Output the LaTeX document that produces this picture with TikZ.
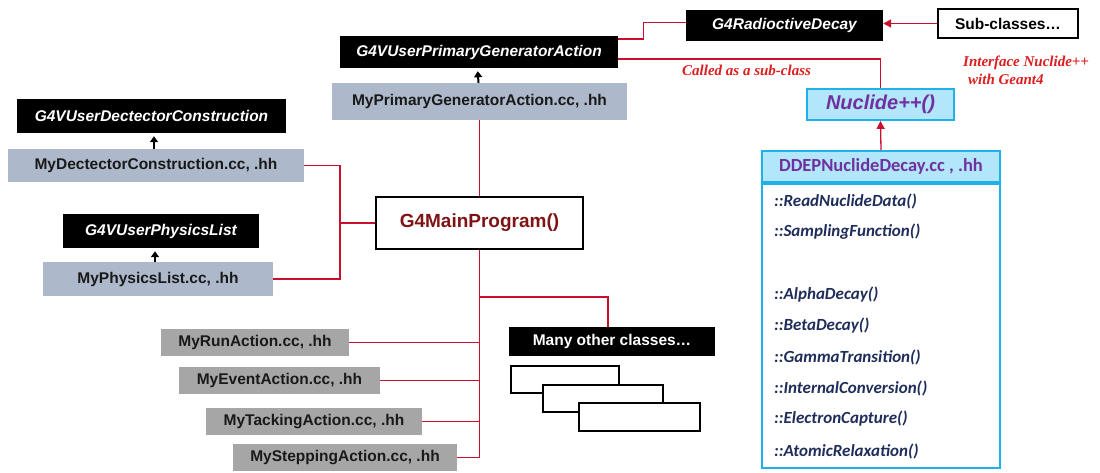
\documentclass[tikz,border=0pt]{standalone}
\usepackage{fontspec}
\setmainfont{Liberation Sans}
\newfontfamily\calib{Carlito}
\newfontfamily\tms{Liberation Serif}
\usetikzlibrary{arrows.meta}
\definecolor{bgray}{HTML}{ADB9CA}
\definecolor{mgray}{HTML}{A6A6A6}
\definecolor{cyfill}{HTML}{B2E6FA}
\definecolor{cyline}{HTML}{1FB2E8}
\definecolor{lred}{HTML}{C8102E}
\definecolor{mainred}{HTML}{7F1416}
\definecolor{purp}{HTML}{7030A0}
\definecolor{navy}{HTML}{1F2D5A}
\definecolor{labred}{HTML}{DC1E1E}
\tikzset{
  base/.style={inner sep=0pt, font=\fontsize{15.5}{18}\selectfont\bfseries},
  blackbox/.style={base, fill=black, text=white, font=\fontsize{15.5}{18}\selectfont\bfseries\itshape},
  bluebox/.style={base, fill=bgray, text=black!90},
  graybox/.style={base, fill=mgray, text=black!90},
  whitebox/.style={base, fill=white, draw=black, line width=1.6pt},
  redline/.style={draw=lred, line width=1.3pt},
  blackarr/.style={-{Triangle[length=6pt,width=8pt]}, line width=2pt, black},
  redarr/.style={redline, -{Triangle[length=8pt,width=8pt]}},
  redlabel/.style={text=labred, font=\tms\fontsize{15}{18}\selectfont\bfseries\itshape, inner sep=0pt},
  item/.style={anchor=west, inner sep=0pt, text=navy, font=\calib\fontsize{17}{18}\selectfont\bfseries\itshape},
}
\begin{document}
\begin{tikzpicture}[x=1pt,y=-1pt]
\useasboundingbox (0,0) rectangle (1100,472);
% top centre
\node[blackbox, minimum width=278, minimum height=32] (gpa) at (479,52) {G4VUserPrimaryGeneratorAction};
\node[bluebox, minimum width=295, minimum height=37] (mpga) at (479.5,101.5) {MyPrimaryGeneratorAction.cc, .hh};
\draw[blackarr, shorten >=3pt] ([xshift=-1pt]mpga.north) -- ([xshift=-1.5pt]gpa.south);
% left
\node[blackbox, minimum width=269, minimum height=34] (gdc) at (151.5,116) {G4VUserDectectorConstruction};
\node[bluebox, minimum width=296, minimum height=33] (mdc) at (156,165.5) {MyDectectorConstruction.cc, .hh};
\draw[blackarr, shorten >=3pt] ([xshift=-2pt]mdc.north) -- ([xshift=2.5pt]gdc.south);
\node[blackbox, minimum width=196, minimum height=34] (gpl) at (161,231) {G4VUserPhysicsList};
\node[bluebox, minimum width=230, minimum height=34] (mpl) at (158,279) {MyPhysicsList.cc, .hh};
\draw[blackarr, shorten >=3pt] ([xshift=-3pt]mpl.north) -- ([xshift=-6pt]gpl.south);
% main
\node[whitebox, minimum width=207, minimum height=52, text=mainred, font=\fontsize{19}{22}\selectfont\bfseries] (main) at (479.5,223) {G4MainProgram()};
\coordinate (jl) at (340,223);
\draw[redline] (mdc.east) -| (jl) |- (mpl.east);
\draw[redline] (main.west) -- (jl);
\draw[redline] (mpga.south) -- (main.north);
% actions
\node[graybox, minimum width=188, minimum height=27] (run) at (255,342.5) {MyRunAction.cc, .hh};
\node[graybox, minimum width=201, minimum height=27] (evt) at (279.5,380.5) {MyEventAction.cc, .hh};
\node[graybox, minimum width=216, minimum height=27] (tck) at (314,421.5) {MyTackingAction.cc, .hh};
\node[graybox, minimum width=224, minimum height=27] (stp) at (345,457.5) {MySteppingAction.cc, .hh};
\draw[redline] (main.south) -- (main.south |- stp.east) -- (stp.east);
\draw[redline] (run.east) -- (run.east -| main.south);
\draw[redline] (evt.east) -- (evt.east -| main.south);
\draw[redline] (tck.east) -- (tck.east -| main.south);
% many other classes
\node[blackbox, font=\fontsize{15.5}{18}\selectfont\bfseries, minimum width=206, minimum height=29] (many) at (612,341.5) {Many other classes\ldots};
\coordinate (jm) at (479,297);
\draw[redline] (jm) -| ([xshift=-4pt]many.north);
\node[whitebox, minimum width=108, minimum height=27] (s1) at (565,379.5) {};
\node[whitebox, minimum width=120, minimum height=27] (s2) at (603,398.5) {};
\node[whitebox, minimum width=121, minimum height=28] (s3) at (639.5,417) {};
% top right
\node[blackbox, minimum width=197, minimum height=31] (rad) at (784.5,25.5) {G4RadioctiveDecay};
\node[whitebox, minimum width=140, minimum height=29] (sub) at (1008,23.5) {Sub-classes\ldots};
\draw[redarr] (sub.west) -- (rad.east |- sub.west);
\draw[redline] ([yshift=13pt]gpa.east) -- ++(25,0) |- ([yshift=3pt]rad.west);
\node[base, fill=cyfill, draw=cyline, line width=1.8pt, minimum width=147, minimum height=31, text=purp, font=\fontsize{20}{22}\selectfont\bfseries\itshape] (nuc) at (880.5,104.5) {Nuclide++()};
\draw[redline] ([yshift=-7pt]gpa.east) -| (nuc.north);
\node[redlabel, anchor=west] (called) at (682,70) {Called as a sub-class};
\node[redlabel, anchor=north west, align=left] (iface) at (963,56) {Interface Nuclide++\\\hspace*{5pt}with Geant4};
% DDEP class box
\node[base, fill=cyfill, draw=cyline, line width=1.8pt, minimum width=238, minimum height=31, text=purp, font=\calib\fontsize{18.5}{22}\selectfont\bfseries] (ddh) at (881,166.5) {DDEPNuclideDecay.cc , .hh};
\node[base, draw=cyline, line width=1.8pt, minimum width=238, minimum height=284, anchor=north] (ddb) at (ddh.south) {};
\draw[redarr] (ddh.north) -- (nuc.south);
\node[item] (i1) at (774,201) {::ReadNuclideData()};
\node[item] (i2) at (774,232) {::SamplingFunction()};
\node[item] (i3) at (774,295) {::AlphaDecay()};
\node[item] (i4) at (774,326) {::BetaDecay()};
\node[item] (i5) at (774,357) {::GammaTransition()};
\node[item] (i6) at (774,388) {::InternalConversion()};
\node[item] (i7) at (774,419) {::ElectronCapture()};
\node[item] (i8) at (774,451) {::AtomicRelaxation()};
\end{tikzpicture}
\end{document}
